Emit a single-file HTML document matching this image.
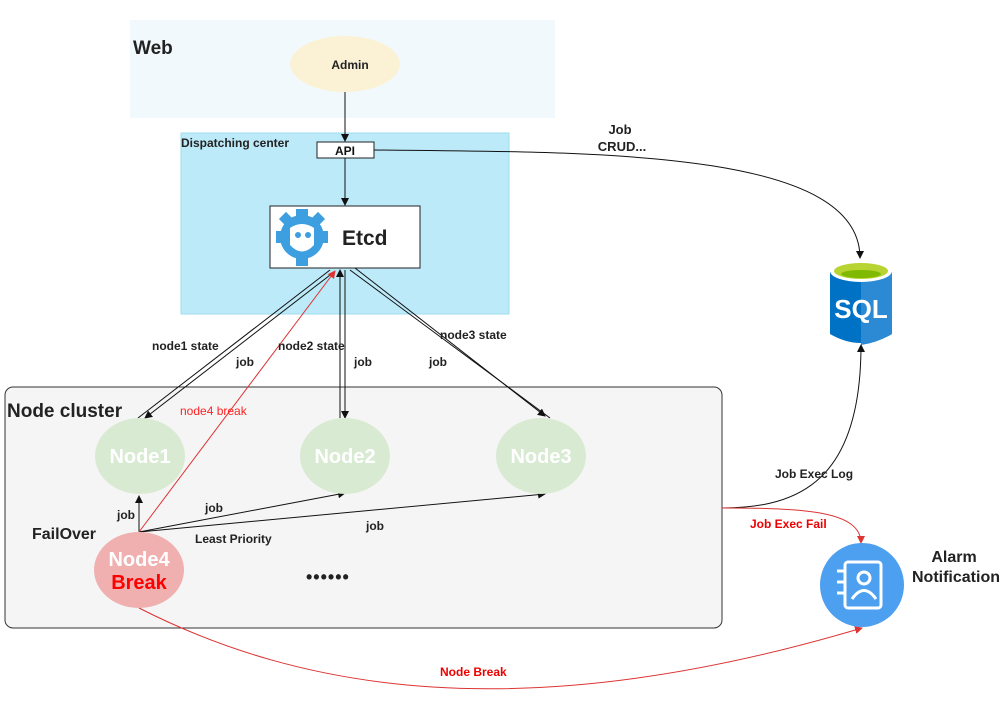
<!DOCTYPE html>
<html><head><meta charset="utf-8"><style>
body{margin:0;background:#fff;width:1007px;height:697px;overflow:hidden}
text{font-family:"Liberation Sans","Noto Sans CJK SC",sans-serif;font-weight:bold}
</style></head><body>
<svg width="1007" height="697" viewBox="0 0 1007 697" xmlns="http://www.w3.org/2000/svg">
<defs>
<marker id="a" markerWidth="8" markerHeight="8" refX="7" refY="4" orient="auto" markerUnits="userSpaceOnUse"><path d="M0,0 L8,4 L0,8 Z" fill="#111"/></marker>
<marker id="r" markerWidth="8" markerHeight="8" refX="7" refY="4" orient="auto" markerUnits="userSpaceOnUse"><path d="M0,0 L8,4 L0,8 Z" fill="#d33"/></marker>
</defs>
<rect x="130" y="20" width="425" height="98" fill="#f2f9fd"/>
<text x="133" y="54" font-size="19" fill="#222">Web</text>
<ellipse cx="345" cy="64" rx="55" ry="28" fill="#fbf2d6"/>
<text x="350" y="69" font-size="12" text-anchor="middle" fill="#222">Admin</text>
<rect x="181" y="133" width="328" height="181" fill="#bdeaf9" stroke="#9fdcef"/>
<text x="181" y="147" font-size="12" fill="#222">Dispatching center</text>
<line x1="345" y1="92" x2="345" y2="141" stroke="#111" marker-end="url(#a)"/>
<rect x="317" y="142" width="57" height="16" fill="#fff" stroke="#222"/>
<text x="345" y="155" font-size="12" text-anchor="middle" fill="#111">API</text>
<line x1="345" y1="158" x2="345" y2="205" stroke="#111" marker-end="url(#a)"/>
<rect x="270" y="206" width="150" height="62" fill="#fff" stroke="#222"/>
<g fill="#3d9fe0">
<circle cx="302" cy="237" r="22"/>
<rect x="296" y="209" width="12" height="10"/><rect x="296" y="255" width="12" height="11"/>
<rect x="276" y="231" width="10" height="12"/><rect x="318" y="231" width="10" height="12"/>
<rect x="281" y="214" width="10" height="10" transform="rotate(45 286 219)"/><rect x="313" y="214" width="10" height="10" transform="rotate(45 318 219)"/>
</g>
<path d="M290,228 Q302,220 314,228 L314,245 Q302,258 290,245 Z" fill="#fff"/>
<circle cx="298" cy="235" r="3" fill="#3d9fe0"/><circle cx="308" cy="235" r="3" fill="#3d9fe0"/>
<text x="342" y="245" font-size="21" fill="#222">Etcd</text>
<text x="620" y="134" font-size="13" text-anchor="middle" fill="#222">Job</text>
<text x="622" y="151" font-size="13" text-anchor="middle" fill="#222">CRUD...</text>
<path d="M374,150 C600,152 860,150 860,258" fill="none" stroke="#111" marker-end="url(#a)"/>
<path d="M830,272 L830,334 Q861,352 892,334 L892,272 Z" fill="#0072c6"/>
<path d="M861,272 L892,272 L892,334 Q877,343 861,345 Z" fill="#2b8ad3"/>
<ellipse cx="861" cy="271" rx="31" ry="11" fill="#fff"/>
<ellipse cx="861" cy="271" rx="27" ry="8" fill="#b8d432"/>
<ellipse cx="861" cy="274" rx="20" ry="4" fill="#7fba00"/>
<text x="861" y="318" font-size="26" text-anchor="middle" fill="#fff">SQL</text>
<rect x="5" y="387" width="717" height="241" rx="8" fill="#f5f5f5" stroke="#333"/>
<text x="7" y="417" font-size="19" fill="#222">Node cluster</text>
<g stroke="#111" fill="none">
<line x1="138" y1="418" x2="330" y2="270"/><line x1="334" y1="272" x2="145" y2="418" marker-end="url(#a)"/>
<line x1="340" y1="418" x2="340" y2="270" marker-end="url(#a)"/><line x1="345" y1="270" x2="345" y2="418" marker-end="url(#a)"/>
<line x1="550" y1="418" x2="350" y2="270"/><line x1="355" y1="268" x2="545" y2="416" marker-end="url(#a)"/>
<line x1="139" y1="532" x2="139" y2="496" marker-end="url(#a)"/>
<line x1="139" y1="532" x2="345" y2="493" marker-end="url(#a)"/>
<line x1="139" y1="532" x2="545" y2="494" marker-end="url(#a)"/>
<path d="M722,508 C800,508 861,480 861,345" marker-end="url(#a)"/>
</g>
<line x1="139" y1="532" x2="335" y2="271" stroke="#d33" marker-end="url(#r)"/>
<path d="M722,508 C800,508 861,510 861,543" fill="none" stroke="#d33" marker-end="url(#r)"/>
<path d="M139,608 C300,690 520,730 862,628" fill="none" stroke="#d33" marker-end="url(#r)"/>
<ellipse cx="140" cy="456" rx="45" ry="38" fill="#d9ead3"/>
<ellipse cx="345" cy="456" rx="45" ry="38" fill="#d9ead3"/>
<ellipse cx="541" cy="456" rx="45" ry="38" fill="#d9ead3"/>
<ellipse cx="139" cy="570" rx="45" ry="38" fill="#f0b0b0"/>
<g font-size="20" fill="#fff" text-anchor="middle">
<text x="140" y="463">Node1</text><text x="345" y="463">Node2</text><text x="541" y="463">Node3</text><text x="139" y="566">Node4</text>
</g>
<text x="139" y="589" font-size="20" fill="#f00" text-anchor="middle">Break</text>
<g font-size="12" fill="#222">
<text x="152" y="350">node1 state</text><text x="236" y="366">job</text>
<text x="278" y="350">node2 state</text><text x="354" y="366">job</text>
<text x="440" y="339">node3 state</text><text x="429" y="366">job</text>
<text x="117" y="519">job</text><text x="205" y="512">job</text><text x="366" y="530">job</text>
<text x="195" y="543">Least Priority</text>
<text x="775" y="478">Job Exec Log</text>
</g>
<text x="180" y="415" font-size="12" fill="#f22" style="font-weight:normal">node4 break</text>
<text x="32" y="539" font-size="16" fill="#222">FailOver</text>
<text x="306" y="583" font-size="18" fill="#222" letter-spacing="1">••••••</text>
<text x="750" y="528" font-size="12" fill="#e00">Job Exec Fail</text>
<text x="440" y="676" font-size="12" fill="#e00">Node Break</text>
<circle cx="862" cy="585" r="42" fill="#4d9fef"/>
<rect x="845" y="562" width="36" height="46" rx="3" fill="none" stroke="#fff" stroke-width="3"/>
<g stroke="#fff" stroke-width="3"><line x1="837" y1="571" x2="846" y2="571"/><line x1="837" y1="582" x2="846" y2="582"/><line x1="837" y1="593" x2="846" y2="593"/></g>
<circle cx="864" cy="578" r="6" fill="none" stroke="#fff" stroke-width="3"/>
<path d="M852,599 Q864,582 876,599" fill="none" stroke="#fff" stroke-width="3"/>
<text x="954" y="562" font-size="16" fill="#222" text-anchor="middle">Alarm</text>
<text x="956" y="582" font-size="16" fill="#222" text-anchor="middle">Notification</text>
</svg>
</body></html>
